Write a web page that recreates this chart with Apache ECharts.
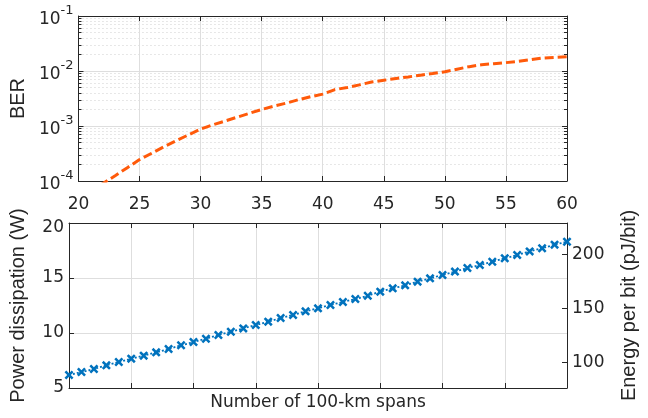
<!DOCTYPE html>
<html><head><meta charset="utf-8">
<script src="https://cdn.jsdelivr.net/npm/echarts@6/dist/echarts.min.js"></script>
<style>html,body{margin:0;padding:0;background:#fff}#c{width:648px;height:418px}</style>
</head><body><div id="c"></div>
<script>
// ---- data ----
const spans = [20,21,22,23,24,25,26,27,28,29,30,31,32,33,34,35,36,37,38,39,40,
               41,42,43,44,45,46,47,48,49,50,51,52,53,54,55,56,57,58,59,60];
const berValues = [4.5e-5,6.5e-5,9.0e-5,1.25e-4,1.75e-4,2.45e-4,3.2e-4,4.2e-4,5.4e-4,6.9e-4,8.8e-4,
                   1.05e-3,1.23e-3,1.45e-3,1.7e-3,2.0e-3,2.3e-3,2.6e-3,3.0e-3,3.4e-3,3.8e-3,
                   4.6e-3,5.0e-3,5.6e-3,6.3e-3,6.8e-3,7.3e-3,7.8e-3,8.4e-3,9.0e-3,9.7e-3,
                   1.08e-2,1.2e-2,1.3e-2,1.36e-2,1.42e-2,1.5e-2,1.6e-2,1.72e-2,1.77e-2,1.82e-2];
const powerValues = [6.18,6.45,6.73,7.06,7.36,7.67,7.94,8.24,8.55,8.88,9.18,
                     9.48,9.82,10.12,10.42,10.73,11.03,11.36,11.64,11.97,12.24,
                     12.55,12.82,13.09,13.39,13.76,14.06,14.33,14.67,14.97,15.27,
                     15.58,15.91,16.18,16.48,16.79,17.09,17.42,17.70,18.03,18.30];
const xTicks = [20,25,30,35,40,45,50,55,60];
const berTicks = [1e-4,1e-3,1e-2,1e-1];
const berMinorTicks = [2e-4,3e-4,4e-4,5e-4,6e-4,7e-4,8e-4,9e-4,
                       2e-3,3e-3,4e-3,5e-3,6e-3,7e-3,8e-3,9e-3,
                       2e-2,3e-2,4e-2,5e-2,6e-2,7e-2,8e-2,9e-2];
const powerTicks = [5,10,15,20];
const energyTicks = [100,150,200];
const energyRange = [76.6,229.1];

// ---- styles ----
const FONT = '"DejaVu Sans", sans-serif';
const NAMEFONT = '"Liberation Sans", Arial, sans-serif';
const TXT = '#262626';
const AX = '#262626';
const GRID = '#dedede';
const axisLine = {show:true, onZero:false, lineStyle:{color:AX, width:1}};
const majorTick = (vals) => ({show:true, inside:true, length:5, customValues:vals, lineStyle:{color:AX}});
const lbl = {color:TXT, fontFamily:FONT, fontSize:17};
const nameStyle = {color:TXT, fontFamily:NAMEFONT, fontSize:20};

const berPairs = spans.map((s,i)=>[s, berValues[i]]);
const powerPairs = spans.map((s,i)=>[s, powerValues[i]]);

const chart = echarts.init(document.getElementById('c'), null, {renderer:'canvas'});
const G0 = {left:68, right:81, top:16, height:165};
const G1 = {left:68, right:81, top:223, height:165};

function logLabel(v){
  const e = Math.round(Math.log10(v));
  return '{b|10}{s|' + e + '}';
}
const supRich = {
  b:{color:TXT, fontFamily:FONT, fontSize:17, verticalAlign:'bottom', lineHeight:24},
  s:{color:TXT, fontFamily:FONT, fontSize:13, verticalAlign:'top', lineHeight:24}
};

chart.setOption({
  animation:false,
  backgroundColor:'#fff',
  grid:[Object.assign({containLabel:false}, G0), Object.assign({containLabel:false}, G1)],
  xAxis:[
    {gridIndex:0, type:'value', min:20, max:60, position:'bottom', axisLine,
     axisTick:majorTick(xTicks),
     axisLabel:Object.assign({customValues:xTicks, margin:15}, lbl),
     splitLine:{show:true, lineStyle:{color:GRID, width:1}}},
    {gridIndex:0, type:'value', min:20, max:60, position:'top', axisLine,
     axisTick:majorTick(xTicks), axisLabel:{show:false}, splitLine:{show:false}},
    {gridIndex:1, type:'value', min:20, max:60, position:'bottom', axisLine,
     axisTick:majorTick(xTicks), axisLabel:{show:false},
     splitLine:{show:true, lineStyle:{color:GRID, width:1}},
     name:'Number of 100-km spans', nameLocation:'middle', nameGap:6,
     nameTextStyle:Object.assign({verticalAlign:'top'}, lbl)},
    {gridIndex:1, type:'value', min:20, max:60, position:'top', axisLine,
     axisTick:majorTick(xTicks), axisLabel:{show:false}, splitLine:{show:false}}
  ],
  yAxis:[
    // 0: BER major (left)
    {gridIndex:0, type:'log', logBase:10, min:1e-4, max:1e-1, position:'left', axisLine,
     axisTick:majorTick(berTicks),
     axisLabel:{customValues:berTicks, margin:5, formatter:logLabel, rich:supRich},
     splitLine:{show:true, lineStyle:{color:GRID, width:1}},
     name:'BER', nameLocation:'middle', nameGap:46, nameTextStyle:nameStyle},
    // 1: BER minor (left) - dotted minor grid
    {gridIndex:0, type:'log', logBase:10, min:1e-4, max:1e-1, position:'left',
     axisLine:{show:false},
     axisTick:{show:true, inside:true, length:3, customValues:berMinorTicks, lineStyle:{color:AX}},
     axisLabel:{show:false},
     splitLine:{show:true, lineStyle:{color:'#cfcfcf', width:1, type:[1,3]}}},
    // 2: BER major (right)
    {gridIndex:0, type:'log', logBase:10, min:1e-4, max:1e-1, position:'right', axisLine,
     axisTick:majorTick(berTicks), axisLabel:{show:false}, splitLine:{show:false}},
    // 3: BER minor (right)
    {gridIndex:0, type:'log', logBase:10, min:1e-4, max:1e-1, position:'right',
     axisLine:{show:false},
     axisTick:{show:true, inside:true, length:3, customValues:berMinorTicks, lineStyle:{color:AX}},
     axisLabel:{show:false}, splitLine:{show:false}},
    // 4: power (left)
    {gridIndex:1, type:'value', min:5, max:20, position:'left', axisLine,
     axisTick:majorTick(powerTicks),
     axisLabel:Object.assign({customValues:powerTicks, margin:5,
       formatter:(v)=> v === 20 ? '{t|20}' : String(v),
       rich:{t:{color:TXT, fontFamily:FONT, fontSize:17, padding:[9,0,0,0]}}}, lbl),
     splitLine:{show:true, lineStyle:{color:GRID, width:1}},
     name:'Power dissipation (W)', nameLocation:'middle', nameGap:41, nameTextStyle:nameStyle},
    // 5: energy (right)
    {gridIndex:1, type:'value', min:energyRange[0], max:energyRange[1], position:'right', axisLine,
     axisTick:majorTick(energyTicks),
     axisLabel:Object.assign({customValues:energyTicks, margin:5}, lbl),
     splitLine:{show:false},
     name:'Energy per bit (pJ/bit)', nameLocation:'middle', nameGap:52, nameTextStyle:nameStyle}
  ],
  series:[
    {type:'line', xAxisIndex:0, yAxisIndex:0, data:berPairs, showSymbol:false, clip:true,
     lineStyle:{color:'#FF5A0A', width:3, type:[9,4]}},
    {type:'line', xAxisIndex:2, yAxisIndex:4, data:powerPairs, clip:false,
     symbol:'path://M2,0 L5,3 L8,0 L10,2 L7,5 L10,8 L8,10 L5,7 L2,10 L0,8 L3,5 L0,2 Z',
     symbolSize:9, showAllSymbol:true,
     itemStyle:{color:'#0072BD'},
     lineStyle:{color:'#0072BD', width:1.8, type:[2,2]}}
  ]
});
</script></body></html>
